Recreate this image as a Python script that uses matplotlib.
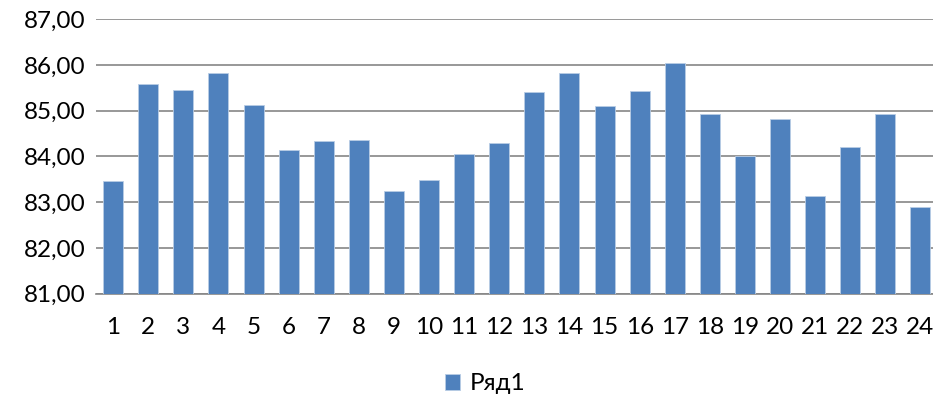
import matplotlib
matplotlib.use("Agg")
import matplotlib.pyplot as plt
import numpy as np

categories = [str(i) for i in range(1, 25)]
values = [83.46, 85.58, 85.45, 85.82, 85.13, 84.14, 84.33, 84.35, 83.25, 83.49,
          84.06, 84.30, 85.40, 85.82, 85.11, 85.43, 86.04, 84.94, 84.01, 84.81,
          83.13, 84.20, 84.94, 82.90]
series_name = "Ряд1"
y_ticks = [81, 82, 83, 84, 85, 86, 87]

plt.rcParams['font.family'] = ['Lato', 'DejaVu Sans']

fig = plt.figure(figsize=(9.33, 3.99), dpi=100)
ax = fig.add_axes([0.1024, 0.264, 0.903, 0.6876])

x = np.arange(len(categories))
ax.bar(x, values, width=0.57, color='#4F81BD', edgecolor='#B9CDE5',
       linewidth=0.6, label=series_name, zorder=3)

ax.set_ylim(81, 87)
ax.set_xlim(-0.5, len(categories) - 0.5)
ax.set_yticks(y_ticks)
ax.set_yticklabels([f"{v:.2f}".replace('.', ',') for v in y_ticks])
ax.set_xticks(x)
ax.set_xticklabels(categories)
ax.yaxis.grid(True, color='#868686', linewidth=1.2, zorder=0)
ax.tick_params(axis='both', length=0, labelsize=17.5, colors='black')
ax.tick_params(axis='y', pad=7)
ax.tick_params(axis='x', pad=17)

for side in ['top', 'right', 'left']:
    ax.spines[side].set_visible(False)
ax.spines['bottom'].set_color('#868686')
ax.spines['bottom'].set_linewidth(1.2)

fig.legend(loc='center', bbox_to_anchor=(0.52, 0.038), frameon=False,
           fontsize=17.5, handlelength=0.65, handleheight=0.65, handletextpad=0.4)

fig.savefig("out.png", dpi=100)
